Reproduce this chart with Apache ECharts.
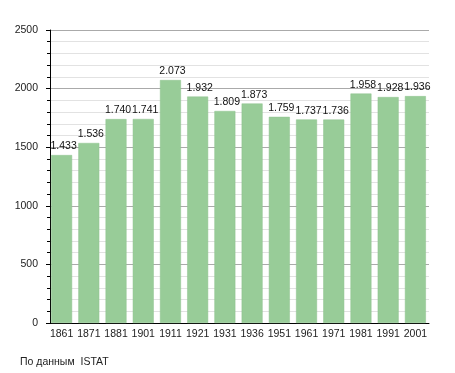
<!DOCTYPE html>
<html><head><meta charset="utf-8">
<script src="https://cdn.jsdelivr.net/npm/echarts@6/dist/echarts.min.js"></script>
<style>html,body{margin:0;padding:0;background:#fff}#c{width:455px;height:373px}</style>
</head><body><div id="c"></div>
<script>
var categories = ['1861','1871','1881','1901','1911','1921','1931','1936','1951','1961','1971','1981','1991','2001'];
var population = [1433,1536,1740,1741,2073,1932,1809,1873,1759,1737,1736,1958,1928,1936];
var yTicks = [0,500,1000,1500,2000,2500];
var sourceText = 'По данным  ISTAT';

var chart = echarts.init(document.getElementById('c'), null, {renderer:'canvas'});
function fmt(v){ var s=String(v); return s.length>3 ? s.slice(0,s.length-3)+'.'+s.slice(-3) : s; }
var FF = 'Liberation Sans, Arial, sans-serif';
chart.setOption({
  animation:false,
  textStyle:{fontFamily:FF},
  grid:{left:48, right:26, top:30, bottom:50},
  graphic:[{type:'text', left:20, top:357, style:{text:sourceText, fontSize:10.5, fill:'#222', fontFamily:FF}}],
  xAxis:{type:'category', data:categories,
    axisLine:{lineStyle:{color:'#000', width:1}},
    axisTick:{show:false},
    axisLabel:{color:'#222', fontSize:10.5, margin:6, interval:0},
    splitLine:{show:false}},
  yAxis:{type:'value', min:yTicks[0], max:yTicks[yTicks.length-1], interval:500, offset:-2,
    axisLine:{show:true, lineStyle:{color:'#000', width:1}},
    axisTick:{show:true, length:4, lineStyle:{color:'#000'}},
    minorTick:{show:true, splitNumber:5, length:3, lineStyle:{color:'#000'}},
    axisLabel:{color:'#222', fontSize:10.5, margin:12, formatter:function(v){return String(v);}},
    splitLine:{show:true, lineStyle:{color:'#aaa', width:1}},
    minorSplitLine:{show:true, lineStyle:{color:'#e2e2e2', width:1}}},
  series:[{type:'bar', data:population, barCategoryGap:'23%',
    itemStyle:{color:'#98cc98', borderColor:'#8fc28f', borderWidth:0.5},
    label:{show:true, position:'top', distance:3, offset:[2,0], color:'#111', fontSize:10.5,
      formatter:function(p){return fmt(p.value);}}}]
});
</script></body></html>
